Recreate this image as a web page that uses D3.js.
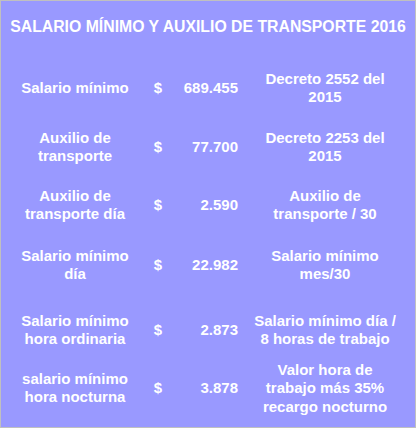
<!DOCTYPE html><html><head><meta charset="utf-8"><script src="https://cdn.jsdelivr.net/npm/d3@7"></script>
<style>body{margin:0;background:#fff}</style></head><body><svg id="c" width="416" height="429"></svg>
<script>
const title = "SALARIO MÍNIMO Y AUXILIO DE TRANSPORTE 2016";
const concepts = [["Salario mínimo"],["Auxilio de","transporte"],["Auxilio de","transporte día"],["Salario mínimo","día"],["Salario mínimo","hora ordinaria"],["salario mínimo","hora nocturna"]];
const values = ["689.455","77.700","2.590","22.982","2.873","3.878"];
const notes = [["Decreto 2552 del","2015"],["Decreto 2253 del","2015"],["Auxilio de","transporte / 30"],["Salario mínimo","mes/30"],["Salario mínimo día /","8 horas de trabajo"],["Valor hora de","trabajo más 35%","recargo nocturno"]];
const rowCenters = [88,147,205,265,330,388];
const svg = d3.select("#c");
svg.append("rect").attr("x",0.5).attr("y",0.5).attr("width",415).attr("height",427).attr("fill","#9999ff").attr("stroke","#c0c0c0");
const font = "Arial, 'Liberation Sans', sans-serif";
svg.append("text").attr("x",208).attr("y",32).attr("text-anchor","middle").attr("fill","#fff").attr("font-family",font).attr("font-weight","bold").attr("font-size",15.8).text(title);
const lh = 18.5;
function lines(x, yc, arr, anchor){
  const g = svg.append("text").attr("text-anchor",anchor).attr("fill","#fff").attr("font-family",font).attr("font-weight","bold").attr("font-size",15);
  arr.forEach((s,i)=>g.append("tspan").attr("x",x).attr("y",yc + (i-(arr.length-1)/2)*lh + 5).text(s));
}
d3.range(values.length).forEach(i=>{
  lines(75, rowCenters[i], concepts[i], "middle");
  lines(158, rowCenters[i], ["$"], "middle");
  lines(238, rowCenters[i], [values[i]], "end");
  lines(325, rowCenters[i], notes[i], "middle");
});
</script></body></html>
